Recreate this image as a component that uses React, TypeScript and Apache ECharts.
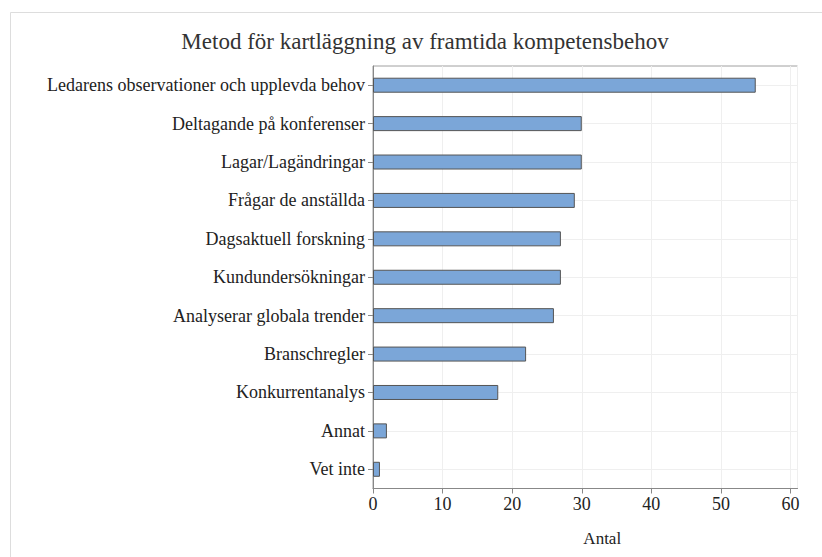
import React, { useEffect, useRef } from "react";
import * as echarts from "echarts";

const titleText = "Metod för kartläggning av framtida kompetensbehov";
const categories = [
  "Ledarens observationer och upplevda behov",
  "Deltagande på konferenser",
  "Lagar/Lagändringar",
  "Frågar de anställda",
  "Dagsaktuell forskning",
  "Kundundersökningar",
  "Analyserar globala trender",
  "Branschregler",
  "Konkurrentanalys",
  "Annat",
  "Vet inte",
];
const values = [55, 30, 30, 29, 27, 27, 26, 22, 18, 2, 1];
const xAxisName = "Antal";

const FONT = "'Liberation Serif', 'Times New Roman', serif";

export default function App() {
  const ref = useRef<HTMLDivElement>(null);
  useEffect(() => {
    if (!ref.current) return;
    const chart = echarts.init(ref.current, undefined, { renderer: "svg" });
    chart.setOption({
      animation: false,
      backgroundColor: "#ffffff",
      title: {
        text: titleText,
        left: 420,
        top: 25,
        textAlign: "center",
        textStyle: { fontFamily: FONT, fontSize: 23, fontWeight: "normal", color: "#333" },
      },
      graphic: [
        {
          type: "rect",
          shape: { x: 10.5, y: 12.5, width: 900, height: 600 },
          style: { fill: "none", stroke: "#dddddd", lineWidth: 1 },
          silent: true,
        },
      ],
      grid: {
        left: 373,
        top: 66,
        right: 24.5,
        bottom: 68.5,
        show: true,
        borderColor: "#a0a0a0",
        borderWidth: 1,
        backgroundColor: "transparent",
      },
      xAxis: {
        type: "value",
        min: 0,
        max: 61,
        interval: 10,
        name: xAxisName,
        nameLocation: "middle",
        nameGap: 41,
        nameTextStyle: { fontFamily: FONT, fontSize: 17, color: "#222", padding: [0, 0, 0, 34] },
        axisLine: { show: true, lineStyle: { color: "#888" } },
        axisTick: { show: true, length: 5, lineStyle: { color: "#888" } },
        axisLabel: { fontFamily: FONT, fontSize: 18, color: "#222", margin: 6, showMaxLabel: false },
        splitLine: { show: true, lineStyle: { color: "#efefef" } },
      },
      yAxis: {
        type: "category",
        data: categories,
        inverse: true,
        axisLine: { show: true, lineStyle: { color: "#888" } },
        axisTick: { show: true, length: 5, alignWithLabel: true, lineStyle: { color: "#888" } },
        axisLabel: { fontFamily: FONT, fontSize: 18, color: "#222", margin: 8 },
        splitLine: { show: true, alignWithLabel: true, lineStyle: { color: "#efefef" } },
      },
      series: [
        {
          type: "bar",
          data: values,
          barWidth: 15,
          itemStyle: { color: "#7ba6d8", borderColor: "#555555", borderWidth: 1 },
        },
      ],
    });
    return () => chart.dispose();
  }, []);
  return (
    <div
      ref={ref}
      style={{ position: "fixed", left: 0, top: 0, width: 822, height: 557 }}
    />
  );
}
